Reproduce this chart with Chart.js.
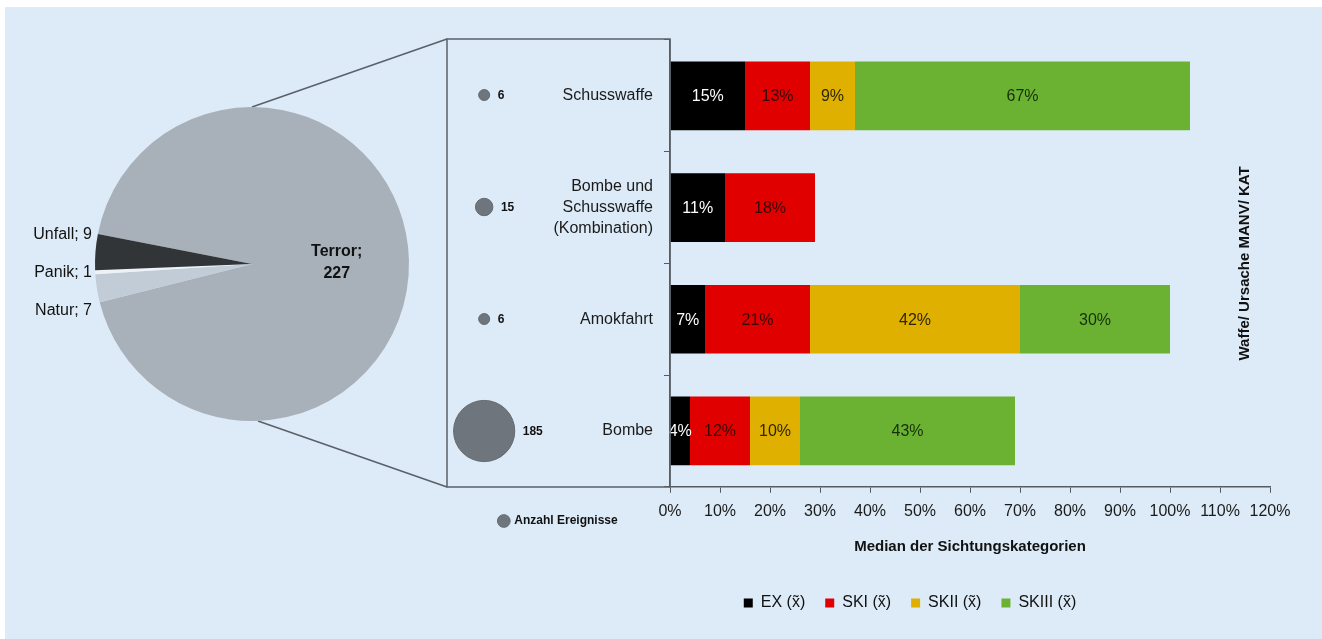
<!DOCTYPE html>
<html>
<head>
<meta charset="utf-8">
<script src="https://cdn.jsdelivr.net/npm/chart.js@4.4.0/dist/chart.umd.min.js"></script>
<style>
html,body{margin:0;padding:0;background:#fff;width:1322px;height:639px;overflow:hidden;}
#fondo{position:absolute;left:5px;top:7px;width:1317px;height:632px;background:#dcebf7;}
canvas{position:absolute;top:0;}
#tarta{left:0;}
#barras{left:540px;}
#burbujas{left:444px;}
</style>
</head>
<body>
<div id="fondo"></div>
<canvas id="tarta" width="450" height="639"></canvas>
<canvas id="barras" width="782" height="639"></canvas>
<canvas id="burbujas" width="229" height="560"></canvas>
<script>
// datos del grafico de tarta (Ursache MANV/KAT)
const pieLabels = ['Terror', 'Natur', 'Panik', 'Unfall']
const pieValues = [227, 7, 1, 9]
const pieColors = ['#a8b0ba', '#c2ccd6', '#eef2f6', '#323538']

// datos de las barras (Median der Sichtungskategorien, %)
const categories = ['Schusswaffe', ['Bombe und', 'Schusswaffe', '(Kombination)'], 'Amokfahrt', 'Bombe']
const seriesNames = ['EX (x\u0303)', 'SKI (x\u0303)', 'SKII (x\u0303)', 'SKIII (x\u0303)']
const ex = [15, 11, 7, 4]
const ski = [13, 18, 21, 12]
const skii = [9, null, 42, 10]
const skiii = [67, null, 30, 43]
const barColors = ['#000000', '#e00000', '#e0b000', '#6cb232']
const labelColors = ['#ffffff', '#3a0505', '#2e2600', '#15300a']

// anzahl ereignisse por categoria
const events = [6, 15, 6, 185]

const FONT = "'Liberation Sans', Arial, sans-serif"
Chart.defaults.font.family = FONT
const BOX = {left: 447, top: 39, bottom: 487}

// ---------- tarta ----------
const pieExtras = {
    id: 'pieExtras',
    beforeDatasetsDraw(chart){
        const ctx = chart.ctx
        const arc = chart.getDatasetMeta(0).data[0]
        ctx.save()
        ctx.strokeStyle = '#59606a'
        ctx.lineWidth = 1.5
        ctx.beginPath()
        ctx.moveTo(arc.x, arc.y - arc.outerRadius)
        ctx.lineTo(BOX.left, BOX.top)
        ctx.moveTo(arc.x + 6, arc.y + arc.outerRadius)
        ctx.lineTo(BOX.left, BOX.bottom)
        ctx.stroke()
        ctx.restore()
    },
    afterDraw(chart){
        const ctx = chart.ctx
        const arcs = chart.getDatasetMeta(0).data
        const a0 = arcs[0]
        const cx = a0.x, cy = a0.y, r = a0.outerRadius
        ctx.save()
        ctx.fillStyle = '#111'
        // Terror
        const mid = (a0.startAngle + a0.endAngle) / 2
        const tx = cx + Math.cos(mid) * r * 0.54
        const ty = cy + Math.sin(mid) * r * 0.54
        ctx.font = 'bold 16px ' + FONT
        ctx.textAlign = 'center'
        ctx.textBaseline = 'middle'
        ctx.fillText(pieLabels[0] + ';', tx, ty - 10)
        ctx.fillText(String(pieValues[0]), tx, ty + 12)
        // etiquetas pequeñas a la izquierda
        const pan = arcs[2]
        const pmid = (pan.startAngle + pan.endAngle) / 2
        const py = cy + Math.sin(pmid) * r
        ctx.font = '16px ' + FONT
        ctx.textAlign = 'right'
        const orden = [3, 2, 1]
        orden.forEach((idx, k) => {
            ctx.fillText(pieLabels[idx] + '; ' + pieValues[idx], cx - r - 3, py + (k - 1) * 38)
        })
        ctx.restore()
    }
}

new Chart(document.getElementById('tarta'), {
    type: 'pie',
    data: {
        labels: pieLabels,
        datasets: [{data: pieValues, backgroundColor: pieColors, borderWidth: 0}]
    },
    options: {
        responsive: false,
        animation: false,
        rotation: 281,
        layout: {padding: {left: 95, right: 41, top: 107, bottom: 218}},
        plugins: {legend: {display: false}, tooltip: {enabled: false}}
    },
    plugins: [pieExtras]
})

// ---------- barras ----------
const barLabels = {
    id: 'barLabels',
    afterDatasetsDraw(chart){
        const ctx = chart.ctx
        ctx.save()
        ctx.font = '16px ' + FONT
        ctx.textAlign = 'center'
        ctx.textBaseline = 'middle'
        chart.data.datasets.forEach((ds, i) => {
            chart.getDatasetMeta(i).data.forEach((bar, j) => {
                const v = ds.data[j]
                if (v == null) return
                const p = bar.getCenterPoint()
                ctx.fillStyle = labelColors[i]
                ctx.fillText(v + '%', p.x, p.y + 1)
            })
        })
        ctx.restore()
    },
    afterDraw(chart){
        const ctx = chart.ctx
        const a = chart.chartArea
        ctx.save()
        ctx.translate(a.right - 25, (a.top + a.bottom) / 2)
        ctx.rotate(-Math.PI / 2)
        ctx.font = 'bold 15px ' + FONT
        ctx.fillStyle = '#111'
        ctx.textAlign = 'center'
        ctx.textBaseline = 'middle'
        ctx.fillText('Waffe/ Ursache MANV/ KAT', 0, 0)
        ctx.restore()
    }
}

const series = [ex, ski, skii, skiii]
new Chart(document.getElementById('barras'), {
    type: 'bar',
    data: {
        labels: categories,
        datasets: series.map((d, i) => ({
            label: seriesNames[i],
            data: d,
            backgroundColor: barColors[i],
            borderWidth: 0
        }))
    },
    options: {
        indexAxis: 'y',
        responsive: false,
        animation: false,
        layout: {padding: {left: 10, right: 52, top: 40, bottom: 18}},
        datasets: {bar: {categoryPercentage: 1, barPercentage: 0.615}},
        scales: {
            x: {
                stacked: true,
                min: 0,
                max: 120,
                ticks: {stepSize: 10, callback: v => v + '%', color: '#1a1a1a', font: {size: 16}, padding: 9},
                grid: {drawOnChartArea: false, tickLength: 6, color: '#555b63'},
                border: {color: '#555b63', width: 1.5},
                title: {
                    display: true,
                    text: 'Median der Sichtungskategorien',
                    color: '#111',
                    font: {size: 15, weight: 'bold'},
                    padding: {top: 8, bottom: 19}
                }
            },
            y: {
                stacked: true,
                ticks: {color: '#1a1a1a', font: {size: 16, lineHeight: 1.3}, padding: 11},
                grid: {drawOnChartArea: false, tickLength: 6, color: '#555b63'},
                border: {color: '#4b5058', width: 1.5},
                afterFit(s){ s.width = 120 }
            }
        },
        plugins: {
            legend: {
                position: 'bottom',
                labels: {boxWidth: 9, boxHeight: 9, padding: 20, color: '#111', font: {size: 16}}
            },
            tooltip: {enabled: false}
        }
    },
    plugins: [barLabels]
})

// ---------- burbujas (anzahl ereignisse) ----------
const bubbleExtras = {
    id: 'bubbleExtras',
    beforeDraw(chart){
        const ctx = chart.ctx
        const a = chart.chartArea
        ctx.save()
        ctx.strokeStyle = '#5a6169'
        ctx.lineWidth = 1.5
        ctx.strokeRect(a.left, a.top, a.right - a.left, a.bottom - a.top)
        ctx.restore()
    },
    afterDatasetsDraw(chart){
        const ctx = chart.ctx
        ctx.save()
        ctx.font = 'bold 12px ' + FONT
        ctx.fillStyle = '#111'
        ctx.textAlign = 'left'
        ctx.textBaseline = 'middle'
        chart.getDatasetMeta(0).data.forEach((pt, j) => {
            ctx.fillText(String(events[j]), pt.x + pt.options.radius + 8, pt.y + 1)
        })
        ctx.restore()
    }
}

new Chart(document.getElementById('burbujas'), {
    type: 'bubble',
    data: {
        datasets: [{
            label: 'Anzahl Ereignisse',
            data: events.map((n, i) => ({x: 1, y: i, r: 2.25 * Math.sqrt(n)})),
            backgroundColor: '#6f757d',
            borderColor: '#646a72',
            borderWidth: 1
        }]
    },
    options: {
        responsive: false,
        animation: false,
        layout: {autoPadding: false, padding: {left: 3, right: 3, top: 39, bottom: 23}},
        scales: {
            x: {display: false, min: 0, max: 6},
            y: {display: false, min: -0.5, max: 3.5, reverse: true}
        },
        plugins: {
            legend: {
                position: 'bottom',
                labels: {usePointStyle: true, pointStyle: 'circle', boxWidth: 9, boxHeight: 9, padding: 28, color: '#111', font: {size: 12, weight: 'bold'}}
            },
            tooltip: {enabled: false}
        }
    },
    plugins: [bubbleExtras]
})
</script>
</body>
</html>
